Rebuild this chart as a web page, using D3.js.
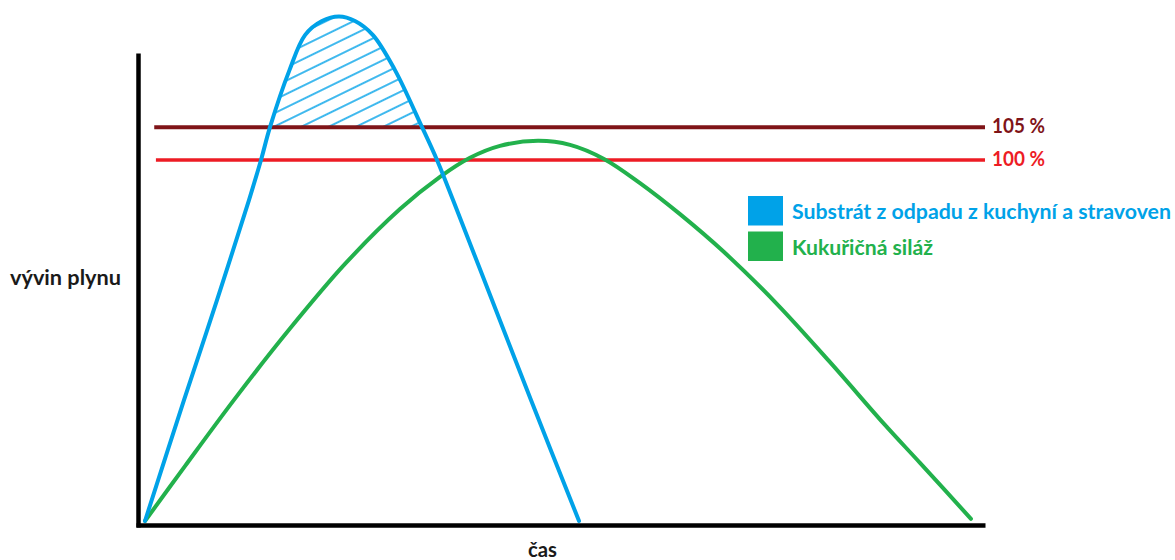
<!DOCTYPE html>
<html>
<head>
<meta charset="utf-8">
<script src="https://cdn.jsdelivr.net/npm/d3@7"></script>
<style>
  body { margin: 0; background: #fff; }
  svg text { font-family: Lato, 'Open Sans', sans-serif; font-weight: bold; }
</style>
</head>
<body>
<svg class="chart"></svg>
<script>
// substrate from kitchen waste - time / gas
const blueTime = [0, 4.64, 8.57, 12.38, 13.81, 14.88, 17.2, 19.05, 21.07, 23.1, 25.0, 27.14, 29.76, 32.98, 34.76, 36.67, 41.31, 45.95, 51.67];
const blueGas = [0, 33.5, 61.2, 88.9, 100, 109.1, 124.9, 134.6, 138.5, 139.75, 138.5, 134.6, 124.9, 109.1, 100, 88.9, 61.2, 33.5, 0];

// maize silage
const greenTime = [0, 4.76, 10.71, 17.26, 23.81, 30.36, 35.12, 38.69, 42.26, 46.79, 50.6, 54.64, 58.93, 63.69, 68.93, 75.24, 81.55, 87.98, 92.26, 98.33];
const greenGas = [0, 15.2, 33.9, 53.3, 71.2, 86.4, 95.3, 100.6, 103.9, 105.3, 104.2, 100.3, 93.6, 85.0, 74.5, 60.1, 44.0, 26.9, 16.1, 0.6];

// reference levels
const levelLabels = ['105 %', '100 %'];
const levelValues = [109.1, 100];
const levelStart = [1.1, 1.3];
const levelColors = ['#7f1418', '#ed1c24'];

const seriesNames = ['Substrát z odpadu z kuchyní a stravoven', 'Kukuřičná siláž'];
const seriesColors = ['#00a2e8', '#22b14c'];

const yTitle = 'vývin plynu';
const xTitle = 'čas';

const width = 1175;
const height = 560;

const svg = d3.select('.chart')
  .attr('width', width)
  .attr('height', height);

const x = d3.scaleLinear().domain([0, 100]).range([145, 985]);
const y = d3.scaleLinear().domain([0, 100]).range([521, 160]);

const blue = blueTime.map((t, i) => ({ t, v: blueGas[i] }));
const green = greenTime.map((t, i) => ({ t, v: greenGas[i] }));

const line = d3.line()
  .x(d => x(d.t))
  .y(d => y(d.v))
  .curve(d3.curveCatmullRom.alpha(0.5));

const area = d3.area()
  .x(d => x(d.t))
  .y0(y(0))
  .y1(d => y(d.v))
  .curve(d3.curveCatmullRom.alpha(0.5));

// hatch pattern + clip to blue curve
const defs = svg.append('defs');
const pattern = defs.append('pattern')
  .attr('id', 'hatch')
  .attr('patternUnits', 'userSpaceOnUse')
  .attr('width', 40)
  .attr('height', 12)
  .attr('patternTransform', 'rotate(-26)');
pattern.append('line')
  .attr('x1', 0).attr('x2', 40)
  .attr('y1', 6).attr('y2', 6)
  .style('stroke', seriesColors[0])
  .style('stroke-width', 1.4);

defs.append('clipPath')
  .attr('id', 'blueClip')
  .append('path')
  .attr('d', area(blue));

svg.append('rect')
  .attr('x', x(0))
  .attr('y', 0)
  .attr('width', x(60) - x(0))
  .attr('height', y(levelValues[0]))
  .attr('clip-path', 'url(#blueClip)')
  .style('fill', 'url(#hatch)');

// axes (no ticks)
const xAxisScale = x.copy().domain([x.invert(136), 100]).range([136, 985]);
const yAxisScale = y.copy().domain([y.invert(527), y.invert(53)]).range([527, 53]);

svg.append('g')
  .attr('transform', `translate(0,${525})`)
  .call(d3.axisBottom(xAxisScale).tickValues([]).tickSizeOuter(0))
  .select('.domain')
  .style('stroke', '#000')
  .style('stroke-width', 4.5);

svg.append('g')
  .attr('transform', `translate(${138},0)`)
  .call(d3.axisLeft(yAxisScale).tickValues([]).tickSizeOuter(0))
  .select('.domain')
  .style('stroke', '#000')
  .style('stroke-width', 4.5);

// reference lines
levelValues.forEach((v, i) => {
  svg.append('line')
    .attr('x1', x(levelStart[i]))
    .attr('x2', x(100))
    .attr('y1', y(v))
    .attr('y2', y(v))
    .style('stroke', levelColors[i])
    .style('stroke-width', i === 0 ? 4 : 3.5);

  svg.append('text')
    .attr('x', x(100) + 7)
    .attr('y', y(v) + 6)
    .attr('textLength', 53)
    .attr('lengthAdjust', 'spacingAndGlyphs')
    .style('font-size', '20px')
    .style('fill', levelColors[i])
    .text(levelLabels[i]);
});

// curves
svg.append('path')
  .attr('d', line(green))
  .style('fill', 'none')
  .style('stroke', seriesColors[1])
  .style('stroke-width', 4)
  .style('stroke-linecap', 'round');

svg.append('path')
  .attr('d', line(blue))
  .style('fill', 'none')
  .style('stroke', seriesColors[0])
  .style('stroke-width', 4)
  .style('stroke-linecap', 'round');

// legend
const legendWidths = [379, 141];
seriesNames.forEach((name, i) => {
  const top = 196 + i * 35.5;
  svg.append('rect')
    .attr('x', 748)
    .attr('y', top)
    .attr('width', 35)
    .attr('height', 29.5)
    .style('fill', seriesColors[i]);
  svg.append('text')
    .attr('x', 792)
    .attr('y', top + 23)
    .attr('textLength', legendWidths[i])
    .attr('lengthAdjust', 'spacingAndGlyphs')
    .style('font-size', '20px')
    .style('fill', seriesColors[i])
    .text(name);
});

// axis titles
svg.append('text')
  .attr('x', 10)
  .attr('y', 285)
  .attr('textLength', 111)
  .attr('lengthAdjust', 'spacingAndGlyphs')
  .style('font-size', '20px')
  .style('fill', '#1a1a1a')
  .text(yTitle);

svg.append('text')
  .attr('x', 528)
  .attr('y', 557)
  .attr('textLength', 29)
  .attr('lengthAdjust', 'spacingAndGlyphs')
  .style('font-size', '20px')
  .style('fill', '#1a1a1a')
  .text(xTitle);
</script>
</body>
</html>
